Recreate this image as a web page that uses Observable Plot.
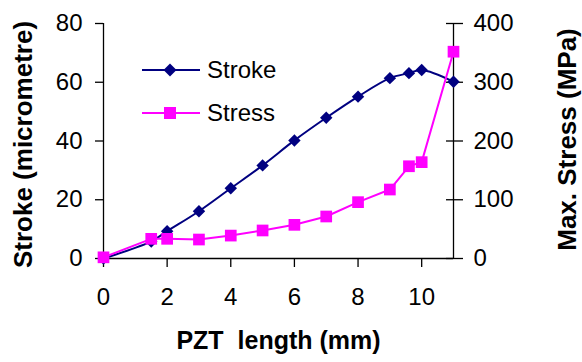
<!DOCTYPE html>
<html>
<head>
<meta charset="utf-8">
<script src="https://cdn.jsdelivr.net/npm/d3@7"></script>
<script src="https://cdn.jsdelivr.net/npm/@observablehq/plot@0.6"></script>
<style>
  html, body { margin: 0; padding: 0; background: #fff; }
  #chart { position: relative; width: 582px; height: 362px; font-family: "Liberation Sans", Arial, sans-serif; }
  #legend { position: absolute; left: 142px; top: 48px; font-size: 24px; color: #000; }
  .row { display: flex; align-items: center; height: 43px; }
  .row svg { margin-right: 7px; }
</style>
</head>
<body>
<div id="chart"></div>
<script>
// PZT actuator length vs. stroke and maximum stress
const lengthMm   = [0, 1.5, 2, 3, 4, 5, 6, 7, 8, 9, 9.6, 10, 11];
const strokeUm   = [0, 5.8, 9.3, 16.1, 23.9, 31.7, 40.2, 47.9, 55.1, 61.4, 63.1, 64.2, 60.2];
const stressMPa  = [2, 33.5, 33.5, 32.3, 39, 47.7, 57.3, 71.5, 95.9, 117.4, 157, 164, 352];

const xTicks      = [0, 2, 4, 6, 8, 10];
const strokeTicks = [0, 20, 40, 60, 80];
const stressTicks = [0, 100, 200, 300, 400];
const xDomain     = [0, 11];

const strokeColor = "#000080";
const stressColor = "#ff00ff";

// stress is drawn on the stroke scale, rescaled so 400 MPa sits at 80 µm
const ratio = strokeTicks[strokeTicks.length - 1] / stressTicks[stressTicks.length - 1];

const rows = lengthMm.map((x, i) => ({x, stroke: strokeUm[i], stress: stressMPa[i]}));

const title = {fontWeight: "bold", textAnchor: "middle", lineAnchor: "middle"};

const chart = Plot.plot({
  width: 582,
  height: 362,
  marginLeft: 103,
  marginRight: 129,
  marginTop: 23,
  marginBottom: 104,
  style: {fontFamily: "'Liberation Sans', Arial, sans-serif", fontSize: "24px", color: "#000", background: "#fff", overflow: "visible"},
  x: {domain: xDomain},
  y: {domain: [strokeTicks[0], strokeTicks[strokeTicks.length - 1]]},
  marks: [
    Plot.axisX({ticks: xTicks, tickSize: 9, tickPadding: 20, label: null, strokeWidth: 1.3}),
    Plot.axisY({anchor: "left", ticks: strokeTicks, tickSize: 8, tickPadding: 13, label: null, strokeWidth: 1.3}),
    Plot.axisY({anchor: "right", ticks: strokeTicks, tickSize: 9, tickPadding: 11, label: null, strokeWidth: 1.3,
      tickFormat: d => String(Math.round(d / ratio))}),
    // inner half of the right-hand cross ticks
    Plot.axisY({anchor: "right", ticks: strokeTicks, tickSize: 8, dx: -8, label: null, strokeWidth: 1.3, tickFormat: () => ""}),
    Plot.ruleX(xDomain, {strokeWidth: 1.3}),
    Plot.ruleY([strokeTicks[0]], {strokeWidth: 1.3}),

    Plot.line(rows, {x: "x", y: "stroke", stroke: strokeColor, strokeWidth: 2, curve: "catmull-rom"}),
    Plot.dot(rows, {x: "x", y: "stroke", symbol: "diamond2", r: 5.6, fill: strokeColor, stroke: "none"}),
    Plot.line(rows, {x: "x", y: d => d.stress * ratio, stroke: stressColor, strokeWidth: 2}),
    Plot.dot(rows, {x: "x", y: d => d.stress * ratio, symbol: "square", r: 6.6, fill: stressColor, stroke: "none"}),

    Plot.text(["PZT\u00a0 length (mm)"], {...title, fontSize: 25, frameAnchor: "bottom", dy: 82}),
    Plot.text(["Stroke (micrometre)"], {...title, fontSize: 26, frameAnchor: "left", rotate: -90, dx: -80, dy: 3.5}),
    Plot.text(["Max. Stress (MPa)"], {...title, fontSize: 26, frameAnchor: "right", rotate: -90, dx: 114, dy: -1.5})
  ]
});

const host = document.getElementById("chart");
host.appendChild(chart);

// legend
const legend = document.createElement("div");
legend.id = "legend";
legend.innerHTML = `
  <div class="row">
    <svg width="58" height="16"><line x1="0" x2="58" y1="8" y2="8" stroke="${strokeColor}" stroke-width="2"/>
      <path d="M28,1.5 L34.5,8 L28,14.5 L21.5,8 Z" fill="${strokeColor}"/></svg>
    <span>Stroke</span>
  </div>
  <div class="row">
    <svg width="58" height="16"><line x1="0" x2="58" y1="8" y2="8" stroke="${stressColor}" stroke-width="2"/>
      <rect x="22" y="2" width="12" height="12" fill="${stressColor}"/></svg>
    <span>Stress</span>
  </div>`;
host.appendChild(legend);
</script>
</body>
</html>
